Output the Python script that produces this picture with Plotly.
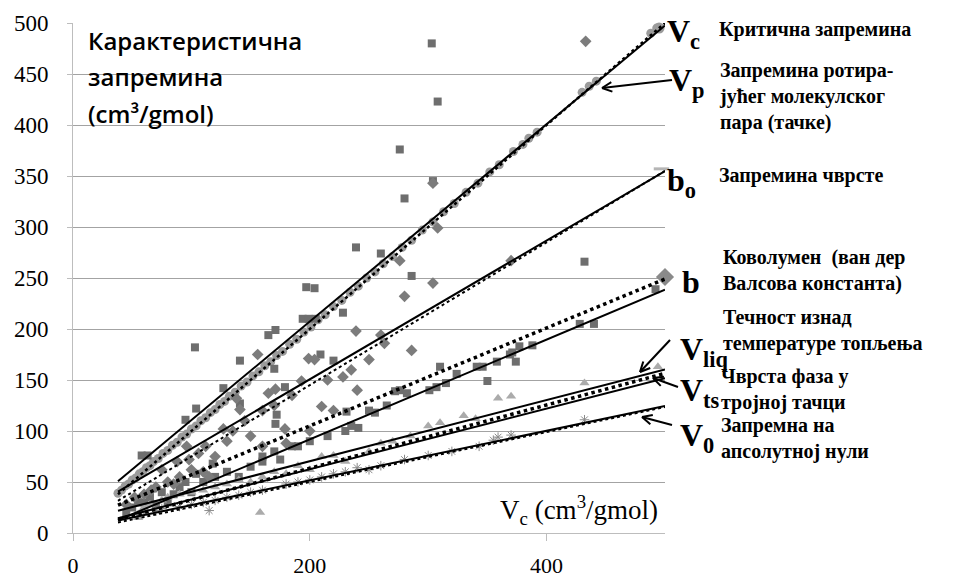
import math
import plotly.graph_objects as go

# ---------------- data (cm3/gmol) ----------------
# Critical volume plotted against itself
vc_x = [38, 41, 44, 47, 50, 53, 56, 59, 62, 65, 68, 72, 76, 80, 84, 88, 92, 96, 100, 104,
        108, 112, 116, 120, 124, 128, 132, 137, 142, 147, 152, 157, 162, 167, 172, 177, 183,
        189, 195, 201, 207, 213, 220, 227, 234, 241, 248, 255, 262, 270, 278, 286, 295, 304,
        313, 322, 332, 342, 352, 360, 372, 380, 385, 392, 430, 436, 442, 488, 493]
vc_y = [39, 42, 46, 48, 52, 54, 58, 60, 64, 66, 70, 73, 78, 81, 86, 89, 94, 97, 102, 105,
        110, 113, 118, 121, 126, 129, 134, 138, 144, 148, 154, 158, 164, 168, 174, 178, 185,
        190, 197, 202, 209, 214, 222, 228, 236, 242, 250, 256, 264, 271, 280, 287, 297, 305,
        315, 323, 334, 343, 354, 361, 374, 381, 387, 393, 432, 438, 443, 490, 495]

# Square markers
sq_x = [303, 308, 276, 304, 280, 239, 260, 286, 197, 204, 194, 199, 205, 228, 103, 141, 165,
        171, 170, 179, 209, 220, 231, 241, 172, 171, 127, 141, 104, 95, 58, 63, 118, 104, 432,
        492, 428, 440, 377, 388, 371, 374, 358, 346, 350, 310, 341, 369, 272, 276, 282, 301,
        307, 315, 324, 150, 170, 200, 230, 250, 130, 90, 75, 100, 60, 80, 140, 185, 215, 160,
        45, 50, 55, 65, 70, 85, 95, 110, 120, 160, 175, 190, 235, 255, 265]
sq_y = [480, 423, 376, 345, 328, 280, 274, 252, 241, 240, 210, 210, 210, 216, 182, 169, 194,
        199, 161, 143, 175, 169, 119, 103, 116, 107, 142, 127, 122, 111, 76, 76, 68, 58, 266,
        239, 205, 205, 183, 184, 177, 168, 168, 163, 149, 163, 163, 175, 139, 140, 137, 140,
        143, 147, 156, 65, 80, 90, 100, 120, 60, 45, 40, 40, 30, 30, 55, 85, 95, 70,
        20, 25, 30, 35, 28, 38, 50, 50, 55, 75, 72, 85, 105, 118, 125]

# Diamond markers
dm_x = [433, 304, 308, 276, 304, 280, 370, 239, 260, 263, 286, 228, 156, 199, 204, 193, 171,
        165, 210, 220, 179, 138, 141, 127, 96, 106, 150, 160, 120, 110, 90, 80, 70, 60, 200,
        180, 240, 130, 45, 52, 66, 85, 100, 115,
        75, 88, 98, 112, 135, 145, 160, 170, 185, 215, 250, 235]
dm_y = [482, 343, 299, 267, 245, 232, 267, 198, 194, 186, 179, 153, 175, 171, 170, 149, 141,
        137, 124, 120, 102, 132, 121, 102, 85, 78, 95, 85, 75, 60, 55, 50, 45, 38, 100, 88,
        140, 90, 28, 35, 42, 48, 62, 55,
        62, 70, 72, 85, 100, 110, 120, 125, 135, 150, 170, 160]

# Triangle markers
tr_x = [359, 370, 432, 494, 100, 150, 200, 250, 270, 300, 330, 210, 160, 120, 80, 60, 55,
        158, 230, 285, 180, 140, 65, 75, 90, 110, 130, 170, 190, 220, 260, 310, 340]
tr_y = [132, 134, 147, 163, 40, 50, 62, 80, 90, 105, 115, 75, 55, 45, 35, 25, 15, 20, 70,
        95, 58, 52, 28, 32, 38, 42, 48, 60, 66, 76, 88, 108, 112]

# Asterisk markers (volume at absolute zero)
st_x = [432, 370, 359, 355, 343, 300, 280, 250, 220, 200, 180, 150, 130, 110, 90, 70, 55,
        115, 240, 320, 60, 75, 100, 120, 140, 160, 190, 210, 230, 260]
st_y = [111, 96, 94, 91, 85, 76, 72, 62, 58, 52, 48, 40, 35, 30, 26, 22, 18, 22, 64, 80,
        20, 24, 28, 32, 37, 42, 50, 55, 60, 66]

# Large end-of-range markers
end_circle = (495, 495)
end_dash = (497, 357)
end_diamond = (500, 251)
end_square = (501, 158)
end_triangle = (501, 124)

# Least-squares trend lines: Vp, b0, b, Vliq, Vts, V0
trend_slope = [0.967, 0.68, 0.489, 0.30, 0.297, 0.243]
trend_icpt = [14.0, 14.7, -6.0, 10.4, 3.2, 3.0]
# Correlation lines: Vc, b0, b, Vliq/Vts, V0
est_slope = [1.0, 0.70, 0.48, 0.31, 0.245]
est_icpt = [0.0, 5.0, 9.0, 1.5, 1.0]
fit_x = [38, 500]

x_ticks = [0, 200, 400]

# ---------------- styling ----------------
est_width = [2.5, 2.0, 3.5, 3.5, 2.0]
SERIF = "Liberation Serif, Times New Roman, serif"

fig = go.Figure()

def pts(x, y, symbol, color, size, line=None):
    fig.add_trace(go.Scatter(
        x=x, y=y, mode="markers", cliponaxis=False, hoverinfo="skip",
        marker=dict(symbol=symbol, color=color, size=size,
                    line=line or dict(width=0))))

pts(vc_x, vc_y, "circle", "#9b9b9b", 9)
pts(sq_x, sq_y, "square", "#6e6e6e", 8)
pts(dm_x, dm_y, "diamond", "#7c7c7c", 9)
pts(tr_x, tr_y, "triangle-up", "#ababab", 9)
pts(st_x, st_y, "asterisk-open", "#8a8a8a", 8, dict(width=1, color="#8a8a8a"))
pts([end_circle[0]], [end_circle[1]], "circle", "#9b9b9b", 11)
pts([end_dash[0]], [end_dash[1]], "line-ew-open", "#b5b5b5", 11, dict(width=3, color="#b5b5b5"))
pts([end_diamond[0]], [end_diamond[1]], "diamond", "#8a8a8a", 14)
pts([end_triangle[0]], [end_triangle[1]], "triangle-up", "#b3b3b3", 12)
pts([end_square[0]], [end_square[1]], "square", "#a0a0a0", 13)

for s, c in zip(trend_slope, trend_icpt):
    fig.add_trace(go.Scatter(x=fit_x, y=[c + s * v for v in fit_x], mode="lines",
                             hoverinfo="skip", line=dict(color="black", width=2)))
for (s, c), w in zip(zip(est_slope, est_icpt), est_width):
    fig.add_trace(go.Scatter(x=fit_x, y=[c + s * v for v in fit_x], mode="lines",
                             hoverinfo="skip", line=dict(color="black", width=w, dash="dot")))

# plot-area pixel frame
L, R, T, B = 73, 665, 23, 533
def px(x):
    return (x - L) / (R - L)
def py(y):
    return (B - y) / (B - T)

ann = []
def label(text, x, y, size, bold=True, family=SERIF):
    ann.append(dict(text=text, x=px(x), y=py(y), xref="paper", yref="paper",
                    xanchor="left", yanchor="middle", align="left", showarrow=False,
                    font=dict(family=family, size=size, color="black",
                              weight="bold" if bold else "normal")))

# title block
for t, yy in [("Карактеристична", 41), ("запремина", 77), ("(cm³/gmol)", 113)]:
    ann.append(dict(text=t, x=px(86), y=py(yy), xref="paper", yref="paper",
                    xanchor="left", yanchor="middle", showarrow=False,
                    font=dict(family="Open Sans", size=24, color="black", weight=600)))

# series symbols
label("V<sub>c</sub>", 665, 33, 32)
label("V<sub>p</sub>", 667, 82, 32)
label("b<sub>o</sub>", 665, 182, 32)
label("b", 680, 282, 32)
label("V<sub>liq</sub>", 678, 352, 32)
label("V<sub>ts</sub>", 678, 392, 32)
label("V<sub>0</sub>", 678, 437, 32)

# descriptions
for t, xx, yy in [("Критична запремина", 717, 30),
                  ("Запремина ротира-<br>јућег молекулског<br>пара (тачке)", 717, 96),
                  ("Запремина чврсте", 717, 175),
                  ("Коволумен  (ван дер<br>Валсова константа)", 721, 270),
                  ("Течност изнад<br>температуре топљења", 721, 330),
                  ("Чврста фаза у<br>тројној тачци", 719, 389),
                  ("Запремна на<br>апсолутној нули", 719, 438)]:
    label(t, xx, yy, 20)

# axis quantity
label("V<sub>c</sub> (cm<sup>3</sup>/gmol)", 498, 510, 27, bold=False)

shapes = []
# white panel behind the title
shapes.append(dict(type="rect", xref="paper", yref="paper", layer="between",
                   x0=px(75), x1=px(348), y0=py(135), y1=py(10),
                   fillcolor="white", line=dict(width=0)))

def arrow(x0, y0, x1, y1, head=11, spread=0.45):
    shapes.append(dict(type="line", xref="paper", yref="paper",
                       x0=px(x0), y0=py(y0), x1=px(x1), y1=py(y1),
                       line=dict(color="black", width=2)))
    ang = math.atan2(y0 - y1, x0 - x1)
    for d in (spread, -spread):
        hx = x1 + head * math.cos(ang + d)
        hy = y1 + head * math.sin(ang + d)
        shapes.append(dict(type="line", xref="paper", yref="paper",
                           x0=px(x1), y0=py(y1), x1=px(hx), y1=py(hy),
                           line=dict(color="black", width=2)))

arrow(672, 80, 602, 88)
arrow(670, 340, 640, 372)
arrow(678, 387, 653, 378)
arrow(672, 425, 642, 417)

fig.update_layout(
    width=957, height=579,
    margin=dict(l=L, r=957 - R, t=T, b=579 - B),
    plot_bgcolor="white", paper_bgcolor="white",
    showlegend=False,
    annotations=ann, shapes=shapes,
    xaxis=dict(range=[0, 500], tickvals=x_ticks, showgrid=False, zeroline=False,
               automargin=False,
               showline=True, linecolor="#bdbdbd", linewidth=1,
               ticks="outside", ticklen=7, tickcolor="#bdbdbd",
               ticklabelstandoff=6,
               tickfont=dict(family=SERIF, size=22, color="black")),
    yaxis=dict(range=[0, 500], dtick=50, showgrid=True, gridcolor="#a3a3a3", gridwidth=1,
               automargin=False,
               zeroline=False, showline=True, linecolor="#bdbdbd", linewidth=1,
               ticks="outside", ticklen=5, tickcolor="#bdbdbd",
               ticklabelstandoff=14,
               tickfont=dict(family=SERIF, size=23, color="black")),
)

fig.write_html("out.html")
